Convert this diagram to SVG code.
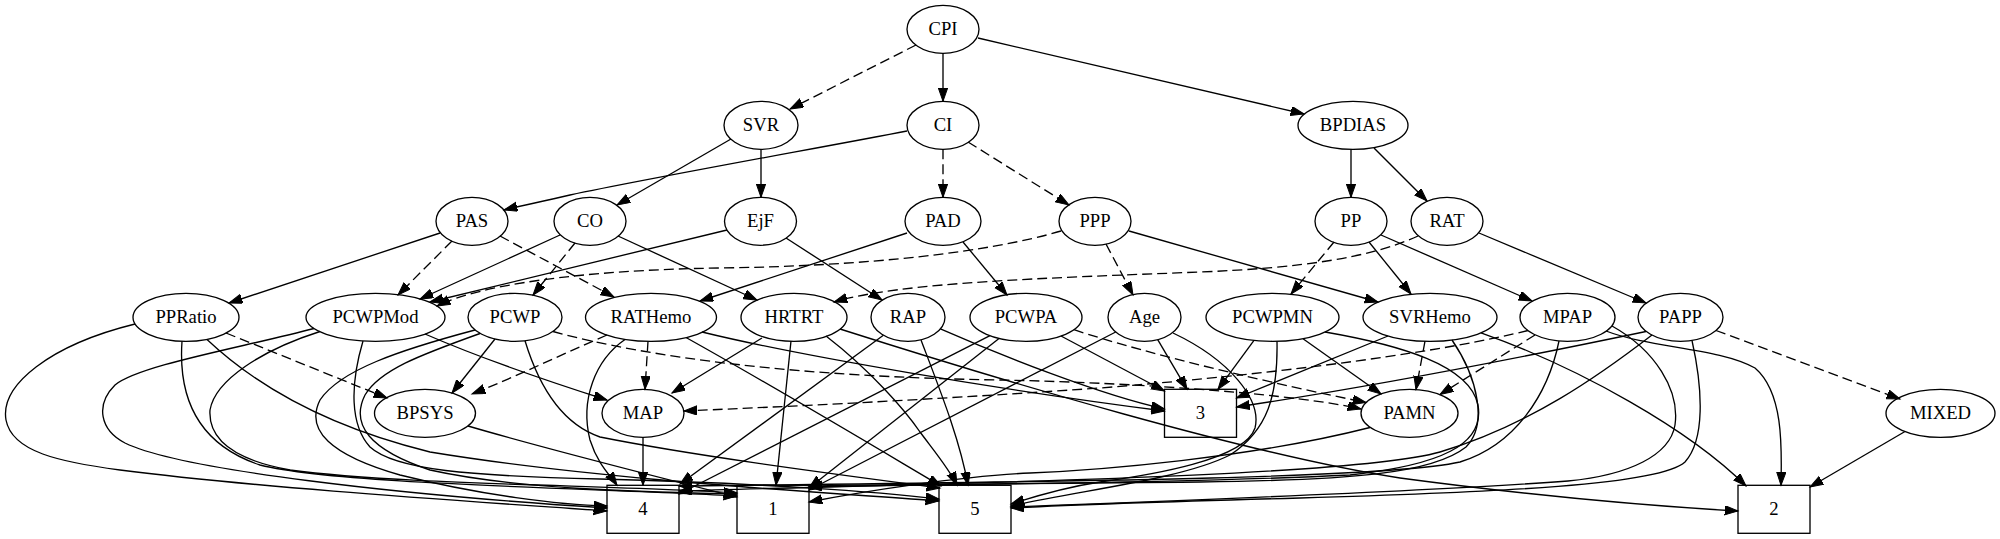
<svg xmlns="http://www.w3.org/2000/svg" width="2000" height="539" viewBox="0 0 2000 539">
<defs>
<marker id="a" markerUnits="userSpaceOnUse" markerWidth="15" markerHeight="11" refX="13.3" refY="4.67" orient="auto">
<path d="M0,0 L13.3,4.67 L0,9.33 z" fill="#000" stroke="#000" stroke-width="1"/>
</marker>
</defs>
<style>
.n ellipse,.n rect{fill:none;stroke:#000;stroke-width:1.33}
text{font-family:"Liberation Serif","Times New Roman",serif;font-size:18.67px;text-anchor:middle;fill:#000}
#edges path{fill:none;stroke:#000;stroke-width:1.33;marker-end:url(#a)}
#edges path.d{stroke-dasharray:10,5}
</style>
<rect width="2000" height="539" fill="#fff"/>
<g id="edges">
<path class="d" d="M916,45 L790,109"/>
<path d="M943,53.3 L943,101.3"/>
<path d="M978,38 L1304,114"/>
<path d="M731,139 L617,205"/>
<path d="M761,149.3 L761,197.3"/>
<path d="M907,131 C830,146 660,176 570,195 C540,202 520,206 504,210"/>
<path class="d" d="M943,149.3 L943,197.3"/>
<path class="d" d="M968,142 L1069,205"/>
<path d="M1351,149.3 L1351,197.3"/>
<path d="M1374,148 L1427,201"/>
<path d="M440,233 L229,303"/>
<path class="d" d="M452,241 L398,295"/>
<path class="d" d="M500,236 L614,297"/>
<path d="M560,235 L420,299"/>
<path class="d" d="M575,243 L533,295"/>
<path d="M618,236 L757,300"/>
<path d="M727,230 L430,302"/>
<path d="M786,238 L882,300"/>
<path d="M907,233 L700,301"/>
<path d="M963,242 L1007,295"/>
<path class="d" d="M1061,231 C990,252 870,266 720,268 C580,270 480,285 437,306"/>
<path class="d" d="M1106,244 L1133,295"/>
<path d="M1129,231 L1378,302"/>
<path class="d" d="M1334,242 L1291,294"/>
<path d="M1369,242 L1411,294"/>
<path d="M1381,235 L1532,301"/>
<path class="d" d="M1418,236 C1370,258 1300,268 1200,272 C1050,278 900,282 834,302"/>
<path d="M1479,233 L1646,303"/>
<path class="d" d="M226,333 L387,398"/>
<path d="M135,324 C50,345 0,385 6,420 C12,452 60,462 120,470 C260,488 480,502 607,511"/>
<path d="M182,341.3 C178,400 200,445 260,465 C340,485 600,488 737,496"/>
<path d="M207,339.5 C250,380 320,425 430,452 C600,480 820,492 939,501"/>
<path d="M425,334 C480,358 560,385 607,400"/>
<path d="M314,328.5 C240,348 140,365 115,385 C95,405 100,430 125,443 C180,470 400,495 607,508"/>
<path d="M320,331.5 C262,350 215,380 210,410 C208,440 235,460 290,470 C400,485 620,485 737,493"/>
<path d="M363,341 C350,385 350,425 370,447 C395,470 470,476 600,479 C760,483 880,492 939,499"/>
<path d="M495,339 L452,393"/>
<path class="d" d="M553,331.5 C650,358 800,377 1000,380 C1150,383 1300,395 1361,409"/>
<path d="M475,330 C400,350 340,370 320,400 C305,430 330,455 400,475 C480,495 560,505 607,506"/>
<path d="M480,333.5 C420,355 380,370 365,395 C350,425 370,450 430,470 C520,490 650,492 737,494"/>
<path d="M525,340.8 C540,390 565,425 600,437 C700,457 850,476 940,488"/>
<path class="d" d="M607,335 C560,355 520,375 472,394"/>
<path class="d" d="M648,341.3 L645,389.3"/>
<path d="M625,339.5 C595,360 580,400 590,440 C598,465 610,475 617,485.3"/>
<path d="M686,337.5 C780,390 880,450 941,486"/>
<path d="M702,332 C800,356 1000,390 1164.5,411"/>
<path d="M762,338 L672,393"/>
<path d="M791,341 L776,485.3"/>
<path d="M826,336 C870,370 905,410 920,432 C935,452 950,470 957,485.3"/>
<path d="M840,329 C1000,380 1250,455 1400,478 C1550,498 1650,506 1738,511"/>
<path d="M883.4,335.3 L680,484"/>
<path d="M921,340 C940,390 960,440 968,485.3"/>
<path d="M940.4,328.9 C1000,355 1100,395 1164.5,409"/>
<path d="M990,335.7 L679,494"/>
<path d="M999,338.4 L809,488"/>
<path d="M1061,336 L1164.5,391"/>
<path class="d" d="M1074,329.7 C1150,355 1280,385 1366,402.5"/>
<path d="M1115.7,332 L809,490"/>
<path d="M1157.7,339.6 L1187,389.3"/>
<path d="M1173,333 C1230,360 1262,400 1255,428 C1245,460 1150,475 1100,482 C1060,488 1030,498 1011,504"/>
<path d="M1254,340.3 L1218,389.3"/>
<path d="M1303,338.7 L1381,394"/>
<path d="M1277,341.2 C1278,395 1268,430 1230,455 C1180,480 1080,490 1011,506"/>
<path d="M1325,332 C1400,345 1470,365 1478,405 C1485,445 1440,465 1350,475 C1150,485 900,484 809,487"/>
<path d="M1388,336 L1236.5,398"/>
<path class="d" d="M1425,341.2 L1416,389.5"/>
<path d="M1452,340 C1478,378 1488,425 1466,447 C1432,474 1350,480 1200,482 C1000,484 880,484 809,486"/>
<path d="M1481,332.8 C1580,368 1690,430 1746,486"/>
<path class="d" d="M1528,330.5 C1450,350 1300,372 1100,388 C900,402 750,408 684,411"/>
<path class="d" d="M1535,335 L1440,394.5"/>
<path d="M1559,341 C1548,395 1515,445 1460,462 C1380,480 1000,482 679,486"/>
<path d="M1612,326 C1655,350 1680,390 1675,425 C1670,455 1630,475 1568,481 C1450,490 1200,500 1011,507"/>
<path d="M1606,331 C1650,348 1720,348 1755,368 C1783,392 1782,445 1781,485.3"/>
<path d="M1646,331.5 C1500,362 1350,390 1236.5,407"/>
<path d="M1652,335 C1600,375 1530,425 1440,452 C1350,478 900,484 679,491"/>
<path d="M1692,340.5 C1703,390 1705,440 1685,462 C1660,485 1500,492 1300,498 C1150,502 1050,506 1011,508"/>
<path class="d" d="M1716,330.5 L1900,399"/>
<path d="M468,426 C550,450 650,475 737,497"/>
<path d="M643,437.3 L643,485.3"/>
<path d="M1370,427.5 C1250,458 1100,470 1030,473 C960,476 860,492 809,502"/>
<path d="M1905,431.5 L1810,487"/>
</g>
<g id="CPI" class="n"><ellipse cx="943" cy="29.3" rx="36" ry="24"/><text x="943" y="35.3">CPI</text></g>
<g id="SVR" class="n"><ellipse cx="761" cy="125.3" rx="37" ry="24"/><text x="761" y="131.3">SVR</text></g>
<g id="CI" class="n"><ellipse cx="943" cy="125.3" rx="36" ry="24"/><text x="943" y="131.3">CI</text></g>
<g id="BPDIAS" class="n"><ellipse cx="1353" cy="125.3" rx="55" ry="24"/><text x="1353" y="131.3">BPDIAS</text></g>
<g id="PAS" class="n"><ellipse cx="472" cy="221.3" rx="36" ry="24"/><text x="472" y="227.3">PAS</text></g>
<g id="CO" class="n"><ellipse cx="590" cy="221.3" rx="36" ry="24"/><text x="590" y="227.3">CO</text></g>
<g id="EjF" class="n"><ellipse cx="760.5" cy="221.3" rx="36" ry="24"/><text x="760.5" y="227.3">EjF</text></g>
<g id="PAD" class="n"><ellipse cx="943" cy="221.3" rx="38" ry="24"/><text x="943" y="227.3">PAD</text></g>
<g id="PPP" class="n"><ellipse cx="1095" cy="221.3" rx="36" ry="24"/><text x="1095" y="227.3">PPP</text></g>
<g id="PP" class="n"><ellipse cx="1351" cy="221.3" rx="36" ry="24"/><text x="1351" y="227.3">PP</text></g>
<g id="RAT" class="n"><ellipse cx="1447" cy="221.3" rx="36" ry="24"/><text x="1447" y="227.3">RAT</text></g>
<g id="PPRatio" class="n"><ellipse cx="186" cy="317.3" rx="53" ry="24"/><text x="186" y="323.3">PPRatio</text></g>
<g id="PCWPMod" class="n"><ellipse cx="375.5" cy="317.3" rx="69.5" ry="24"/><text x="375.5" y="323.3">PCWPMod</text></g>
<g id="PCWP" class="n"><ellipse cx="515" cy="317.3" rx="47" ry="24"/><text x="515" y="323.3">PCWP</text></g>
<g id="RATHemo" class="n"><ellipse cx="651" cy="317.3" rx="65.5" ry="24"/><text x="651" y="323.3">RATHemo</text></g>
<g id="HRTRT" class="n"><ellipse cx="794" cy="317.3" rx="53" ry="24"/><text x="794" y="323.3">HRTRT</text></g>
<g id="RAP" class="n"><ellipse cx="908" cy="317.3" rx="37" ry="24"/><text x="908" y="323.3">RAP</text></g>
<g id="PCWPA" class="n"><ellipse cx="1026" cy="317.3" rx="56" ry="24"/><text x="1026" y="323.3">PCWPA</text></g>
<g id="Age" class="n"><ellipse cx="1144.5" cy="317.3" rx="36.5" ry="24"/><text x="1144.5" y="323.3">Age</text></g>
<g id="PCWPMN" class="n"><ellipse cx="1272.5" cy="317.3" rx="66.5" ry="24"/><text x="1272.5" y="323.3">PCWPMN</text></g>
<g id="SVRHemo" class="n"><ellipse cx="1430" cy="317.3" rx="67" ry="24"/><text x="1430" y="323.3">SVRHemo</text></g>
<g id="MPAP" class="n"><ellipse cx="1567.5" cy="317.3" rx="47.5" ry="24"/><text x="1567.5" y="323.3">MPAP</text></g>
<g id="PAPP" class="n"><ellipse cx="1680.5" cy="317.3" rx="42.5" ry="24"/><text x="1680.5" y="323.3">PAPP</text></g>
<g id="BPSYS" class="n"><ellipse cx="425" cy="413.3" rx="50.5" ry="24"/><text x="425" y="419.3">BPSYS</text></g>
<g id="MAP" class="n"><ellipse cx="643" cy="413.3" rx="41" ry="24"/><text x="643" y="419.3">MAP</text></g>
<g id="n3" class="n"><rect x="1164.5" y="389.3" width="72" height="48"/><text x="1200.5" y="419.3">3</text></g>
<g id="PAMN" class="n"><ellipse cx="1409.5" cy="413.3" rx="48.5" ry="24"/><text x="1409.5" y="419.3">PAMN</text></g>
<g id="MIXED" class="n"><ellipse cx="1940.5" cy="413.3" rx="54.5" ry="24"/><text x="1940.5" y="419.3">MIXED</text></g>
<g id="n4" class="n"><rect x="607" y="485.3" width="72" height="48"/><text x="643" y="515.3">4</text></g>
<g id="n1" class="n"><rect x="737" y="485.3" width="72" height="48"/><text x="773" y="515.3">1</text></g>
<g id="n5" class="n"><rect x="939" y="485.3" width="72" height="48"/><text x="975" y="515.3">5</text></g>
<g id="n2" class="n"><rect x="1738" y="485.3" width="72" height="48"/><text x="1774" y="515.3">2</text></g>
</svg>
